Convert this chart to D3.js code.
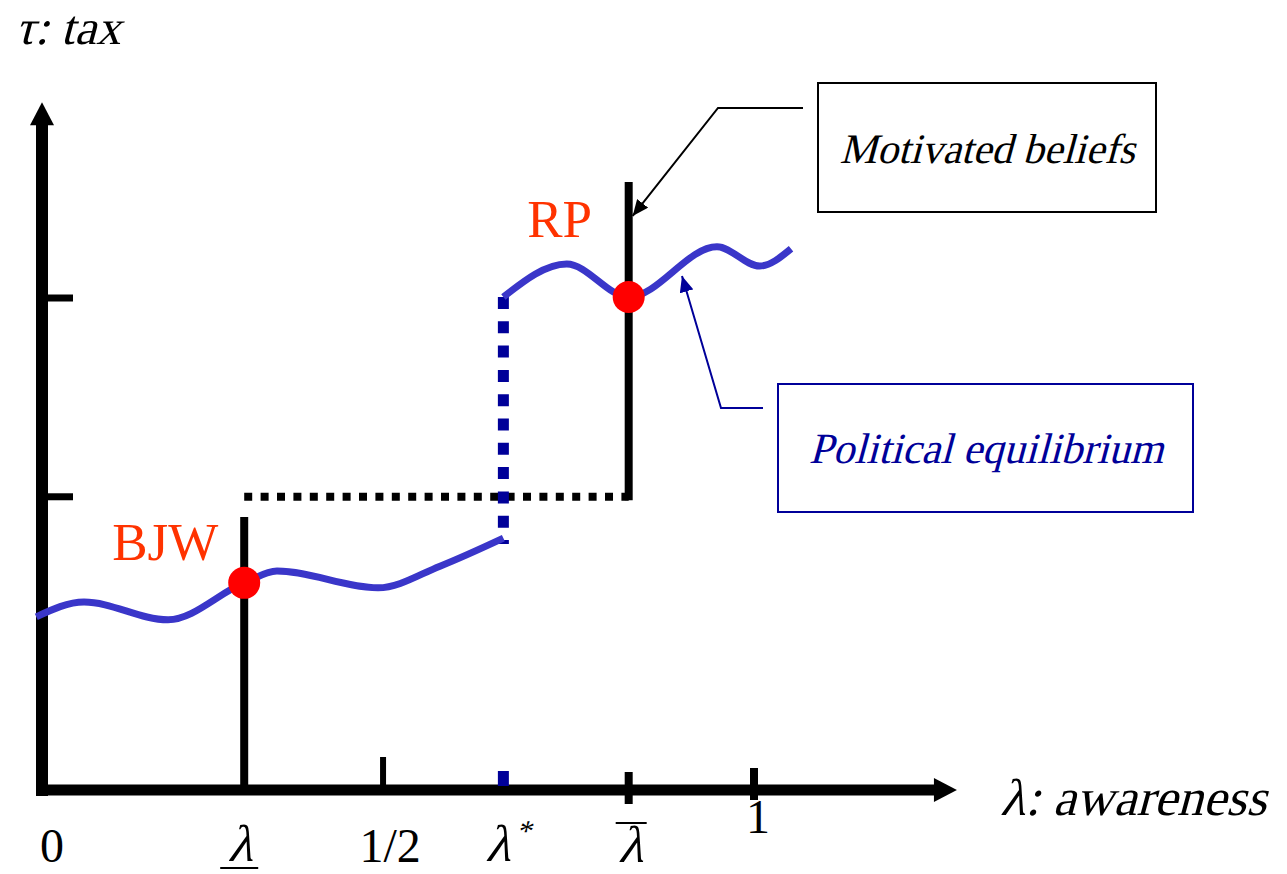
<!DOCTYPE html>
<html>
<head>
<meta charset="utf-8">
<script src="https://cdn.jsdelivr.net/npm/d3@7"></script>
<style>
body { margin: 0; background: #fff; }
text { font-family: "Liberation Serif", "Times New Roman", serif; }
</style>
</head>
<body>
<script>
// awareness (λ) values marked on the horizontal axis
const tickVals  = [0, 0.284, 0.479, 0.648, 0.824, 1];
const tickNames = ["zero", "lamLow", "half", "lamStar", "lamBar", "one"];
// tax levels (τ) marked on the vertical axis
const taxVals = [0.596, 1];
// political equilibrium, one piece each side of λ*
const eqLowX  = [-0.008, 0.059, 0.177, 0.284, 0.330, 0.472, 0.559, 0.648];
const eqLowY  = [0.352, 0.382, 0.346, 0.421, 0.445, 0.411, 0.455, 0.512];
const eqHighX = [0.648, 0.737, 0.824, 0.948, 1.008, 1.052];
const eqHighY = [1.002, 1.069, 1.002, 1.104, 1.065, 1.100];
// the two equilibria
const eqNames  = ["BJW", "RP"];
const eqPointX = [0.284, 0.824];
const eqPointY = [0.421, 1.002];
// motivated-beliefs thresholds (vertical lines) and the jump at λ*
const lowLineTop  = 0.555;
const highLineBot = 0.589, highLineTop = 1.236;
const jumpBot = 0.500, jumpTop = 1.002;
const xMax = 1.285, yMax = 1.398;   // arrow tips

const W = 1287, H = 874;
const x = d3.scaleLinear().domain([0, 1]).range([42, 754]);
const y = d3.scaleLinear().domain([0, 1]).range([790, 298]);

const lamLow = tickVals[1], lamStar = tickVals[3], lamBar = tickVals[4];

const svg = d3.select("body").append("svg")
    .attr("width", W).attr("height", H);

// no italic serif face here, so slant the upright one
function slanted(parent, px, py, str, size, anchor, color) {
  return parent.append("text")
      .attr("transform", "translate(" + px + "," + py + ") skewX(-15)")
      .attr("font-size", size)
      .attr("text-anchor", anchor || "start")
      .attr("fill", color || "#000")
      .text(str);
}

const defs = svg.append("defs");
function marker(id, color) {
  defs.append("marker")
      .attr("id", id)
      .attr("markerUnits", "userSpaceOnUse")
      .attr("viewBox", "0 0 16 14")
      .attr("refX", 16).attr("refY", 7)
      .attr("markerWidth", 16).attr("markerHeight", 14)
      .attr("orient", "auto")
    .append("path")
      .attr("d", "M0,0L16,7L0,14Z")
      .attr("fill", color);
}
marker("arrBlack", "#000");
marker("arrBlue", "#000099");

// tick labels (drawn first so the "1" tucks behind the axis)
const lab = svg.append("g").attr("font-size", 48).attr("text-anchor", "middle");
lab.append("text").attr("x", x(0) + 10).attr("y", 862).text("0");
lab.append("text").attr("x", x(tickVals[2]) + 7).attr("y", 862).text("1/2");
lab.append("text").attr("x", x(tickVals[5]) + 4).attr("y", 833).text("1");
slanted(lab, x(lamLow) - 4, 861, "λ", 52, "middle");
lab.append("line")
    .attr("x1", x(lamLow) - 24).attr("x2", x(lamLow) + 14)
    .attr("y1", 868).attr("y2", 868)
    .attr("stroke", "#000").attr("stroke-width", 2);
const ls = slanted(lab, x(lamStar) + 2, 861, "", 52, "middle");
ls.append("tspan").text("λ");
ls.append("tspan").attr("font-size", 30).attr("dy", -20).text("*");
slanted(lab, x(lamBar) + 2, 862, "λ", 52, "middle");
lab.append("line")
    .attr("x1", x(lamBar) - 13).attr("x2", x(lamBar) + 18)
    .attr("y1", 823).attr("y2", 823)
    .attr("stroke", "#000").attr("stroke-width", 2);

// axes
svg.append("line")
    .attr("x1", x(0) - 6).attr("x2", x(xMax) - 22)
    .attr("y1", y(0)).attr("y2", y(0))
    .attr("stroke", "#000").attr("stroke-width", 11);
svg.append("path")
    .attr("d", "M" + x(xMax) + "," + y(0) + "l-23,-12v24Z")
    .attr("fill", "#000");
svg.append("line")
    .attr("x1", x(0)).attr("x2", x(0))
    .attr("y1", y(0) + 6).attr("y2", y(yMax) + 22)
    .attr("stroke", "#000").attr("stroke-width", 12);
svg.append("path")
    .attr("d", "M" + x(0) + "," + y(yMax) + "l-12,23h24Z")
    .attr("fill", "#000");

// tax ticks
svg.selectAll(".ytick").data(taxVals).enter().append("line")
    .attr("x1", x(0)).attr("x2", x(0) + 31)
    .attr("y1", d => y(d)).attr("y2", d => y(d))
    .attr("stroke", "#000").attr("stroke-width", 7);

// awareness ticks
const tickStyle = {
  half:    {up: 33, down: 0, w: 6, c: "#000"},
  lamStar: {up: 19, down: -4, w: 11, c: "#000099"},
  lamBar:  {up: 18, down: 14, w: 8, c: "#000"},
  one:     {up: 22, down: 10, w: 8, c: "#000"}
};
const ticks = tickVals.map((v, i) => ({v: v, name: tickNames[i]}));
svg.selectAll(".xtick").data(ticks.filter(d => tickStyle[d.name])).enter().append("line")
    .attr("x1", d => x(d.v)).attr("x2", d => x(d.v))
    .attr("y1", d => y(0) - tickStyle[d.name].up)
    .attr("y2", d => y(0) + tickStyle[d.name].down)
    .attr("stroke", d => tickStyle[d.name].c)
    .attr("stroke-width", d => tickStyle[d.name].w);

// threshold lines
svg.append("line")
    .attr("x1", x(lamLow)).attr("x2", x(lamBar))
    .attr("y1", y(taxVals[0])).attr("y2", y(taxVals[0]))
    .attr("stroke", "#000").attr("stroke-width", 8)
    .attr("stroke-dasharray", "8,8.4");
svg.append("line")
    .attr("x1", x(lamLow)).attr("x2", x(lamLow))
    .attr("y1", y(0)).attr("y2", y(lowLineTop))
    .attr("stroke", "#000").attr("stroke-width", 8);
svg.append("line")
    .attr("x1", x(lamBar)).attr("x2", x(lamBar))
    .attr("y1", y(highLineBot)).attr("y2", y(highLineTop))
    .attr("stroke", "#000").attr("stroke-width", 8);
svg.append("line")
    .attr("x1", x(lamStar)).attr("x2", x(lamStar))
    .attr("y1", y(jumpTop)).attr("y2", y(jumpBot))
    .attr("stroke", "#000099").attr("stroke-width", 11)
    .attr("stroke-dasharray", "12,12.3");

// equilibrium curve
const line = d3.line().x(d => x(d[0])).y(d => y(d[1])).curve(d3.curveMonotoneX);
[[eqLowX, eqLowY], [eqHighX, eqHighY]].forEach(function(p) {
  svg.append("path")
      .attr("d", line(p[0].map((v, i) => [v, p[1][i]])))
      .attr("fill", "none")
      .attr("stroke", "#3a36c9")
      .attr("stroke-width", 7);
});

// equilibrium points + names
const pts = eqNames.map((n, i) => ({n: n, x: eqPointX[i], y: eqPointY[i]}));
svg.selectAll(".dot").data(pts).enter().append("circle")
    .attr("cx", d => x(d.x)).attr("cy", d => y(d.y))
    .attr("r", 16).attr("fill", "#ff0000");
svg.selectAll(".eqname").data(pts).enter().append("text")
    .attr("x", d => d.n == "BJW" ? x(d.x) - 79 : x(d.x) - 69)
    .attr("y", d => d.n == "BJW" ? y(d.y) - 23 : y(d.y) - 60)
    .attr("text-anchor", "middle")
    .attr("font-size", 53)
    .attr("fill", "#ff3300")
    .text(d => d.n);

// axis titles
slanted(svg, 15, 44, "τ: tax", 49);
slanted(svg, 1000, 815, "λ: awareness", 52);

// annotation boxes
svg.append("rect")
    .attr("x", 818).attr("y", 83).attr("width", 338).attr("height", 129)
    .attr("fill", "none").attr("stroke", "#000").attr("stroke-width", 2);
slanted(svg, 987, 163, "Motivated beliefs", 42, "middle");
svg.append("polyline")
    .attr("points", [[803, 108], [718, 108], [x(lamBar) + 4, y(highLineTop) + 34]].join(" "))
    .attr("fill", "none").attr("stroke", "#000").attr("stroke-width", 2)
    .attr("marker-end", "url(#arrBlack)");

svg.append("rect")
    .attr("x", 778).attr("y", 384).attr("width", 415).attr("height", 128)
    .attr("fill", "none").attr("stroke", "#000099").attr("stroke-width", 2);
slanted(svg, 986, 463, "Political equilibrium", 43, "middle", "#000099");
svg.append("polyline")
    .attr("points", [[763, 408], [721, 408], [682, 276]].join(" "))
    .attr("fill", "none").attr("stroke", "#000099").attr("stroke-width", 2)
    .attr("marker-end", "url(#arrBlue)");
</script>
</body>
</html>
